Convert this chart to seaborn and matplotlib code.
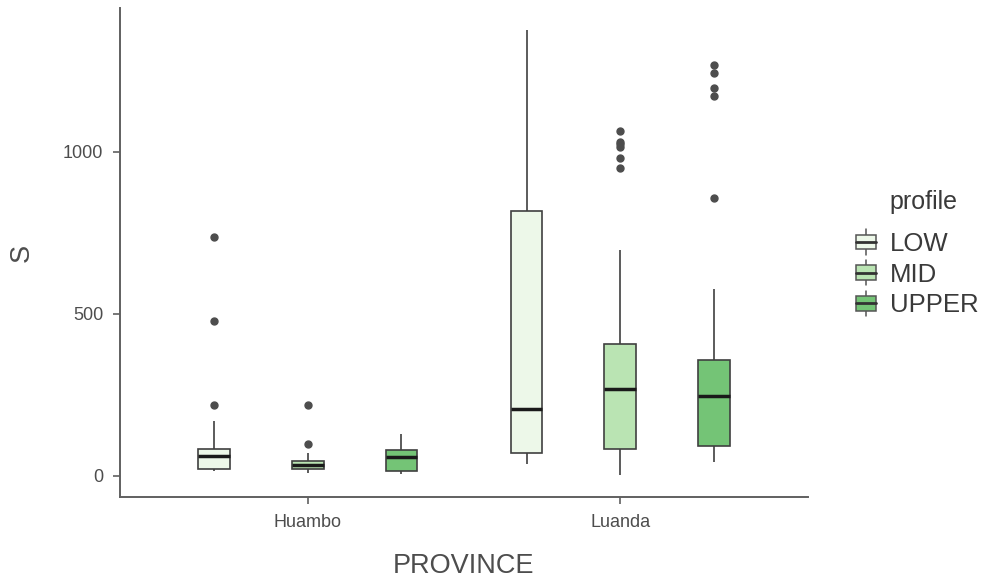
"""
Boxplot of S by province and income profile (ggplot classic look).
"""
import pandas as pd
import matplotlib
matplotlib.use("Agg")
import matplotlib.pyplot as plt
from matplotlib.legend_handler import HandlerBase
from matplotlib.patches import Rectangle, Patch
from matplotlib.lines import Line2D
import seaborn as sns

huambo_low = [16, 18, 19, 21, 22, 35, 45, 55, 62, 70, 76, 80, 84, 168, 217, 478, 736]
huambo_mid = [8, 15, 19, 22, 26, 30, 34, 38, 42, 47, 71, 99, 220]
huambo_upper = [6, 12, 16, 35, 59, 70, 78, 100, 130]
luanda_low = [37, 55, 71, 130, 205, 480, 817, 1050, 1376]
luanda_mid = [3, 20, 35, 48, 58, 68, 76, 84, 110, 135, 160, 185, 210, 240, 267,
              285, 305, 325, 345, 365, 388, 407, 696, 950, 981, 1016, 1025, 1031, 1065]
luanda_upper = [43, 55, 62, 70, 78, 86, 93, 115, 140, 165, 190, 218, 245, 262, 280,
                298, 316, 336, 357, 578, 857, 1174, 1199, 1245, 1270]

provinces = ["Huambo", "Luanda"]
profiles = ["LOW", "MID", "UPPER"]
colors = ["#EDF8E9", "#BAE4B3", "#74C476"]

groups = {
    ("Huambo", "LOW"): huambo_low, ("Huambo", "MID"): huambo_mid, ("Huambo", "UPPER"): huambo_upper,
    ("Luanda", "LOW"): luanda_low, ("Luanda", "MID"): luanda_mid, ("Luanda", "UPPER"): luanda_upper,
}
rows = [(p, g, v) for (p, g), vals in groups.items() for v in vals]
df = pd.DataFrame(rows, columns=["PROVINCE", "profile", "S"])

sns.set_style("ticks")
plt.rcParams["font.family"] = ["Liberation Sans", "DejaVu Sans"]

fig = plt.figure(figsize=(10, 5.83), dpi=100)
ax = fig.add_axes([0.12, 0.1475, 0.688, 0.8388])

edge = "#404040"
sns.boxplot(data=df, x="PROVINCE", y="S", hue="profile", order=provinces, hue_order=profiles,
            palette=colors, saturation=1, width=0.9, gap=0.66, showcaps=False,
            linecolor=edge, linewidth=1.2, legend=False, ax=ax,
            medianprops=dict(color="#1a1a1a", linewidth=2.5),
            flierprops=dict(marker="o", markersize=5, markerfacecolor="#4d4d4d",
                            markeredgecolor="#4d4d4d"))

ymin, ymax = df["S"].min(), df["S"].max()
pad = (ymax - ymin) * 0.05
ax.set_ylim(ymin - pad, ymax + pad)
ax.set_xlim(-0.6, 1.6)
ax.set_yticks([0, 500, 1000])

for s in ["top", "right"]:
    ax.spines[s].set_visible(False)
for s in ["left", "bottom"]:
    ax.spines[s].set_color("#606060")
    ax.spines[s].set_linewidth(1.4)
ax.tick_params(colors="#606060", labelcolor="#4d4d4d", labelsize=13, length=5, width=1.2, pad=7)
ax.set_xlabel("PROVINCE", fontsize=19.5, color="#4d4d4d", labelpad=16)
ax.set_ylabel("S", fontsize=19.5, color="#4d4d4d", labelpad=20)


class BoxHandler(HandlerBase):
    def create_artists(self, legend, orig_handle, xdescent, ydescent, width, height,
                       fontsize, trans):
        cx = width / 2 - xdescent
        bw = width * 0.9
        y0 = -ydescent
        box = Rectangle((cx - bw / 2, y0 + height * 0.1), bw, height * 0.8,
                        facecolor=orig_handle.get_facecolor(), edgecolor="#555555",
                        linewidth=1.1, transform=trans)
        wl = Line2D([cx, cx], [y0 - height * 0.2, y0 + height * 1.2], color="#555555",
                    linewidth=1.1, transform=trans)
        med = Line2D([cx - bw / 2, cx + bw / 2], [y0 + height * 0.5] * 2, color="#333333",
                     linewidth=2.0, transform=trans)
        return [wl, box, med]


handles = [Patch(facecolor=c) for c in colors]
leg = fig.legend(handles, profiles, loc="upper left",
                 bbox_to_anchor=(0.837, 0.633), frameon=False, fontsize=18.5,
                 handlelength=0.85, handleheight=0.7, handletextpad=0.5,
                 labelspacing=0.26, borderpad=0.2, handler_map={Patch: BoxHandler()})
for t in leg.get_texts():
    t.set_color("#3a3a3a")
fig.text(0.923, 1 - 202 / 583, "profile", ha="center", va="center", fontsize=18, color="#3a3a3a")

plt.savefig("out.png", dpi=100)
